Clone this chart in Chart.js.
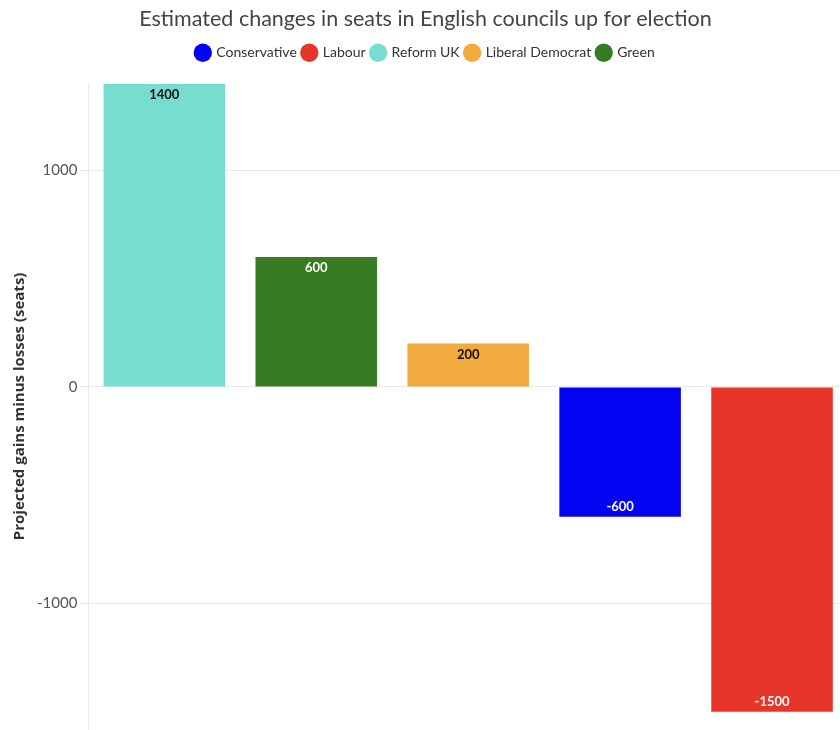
<!DOCTYPE html>
<html>
<head>
<meta charset="utf-8">
<script src="https://cdn.jsdelivr.net/npm/chart.js@4/dist/chart.umd.min.js"></script>
<style>
  html, body { margin: 0; padding: 0; background: #fff; overflow: hidden; }
  #wrap { width: 852px; height: 741px; }
</style>
</head>
<body>
<div id="wrap"><canvas id="seatsChart"></canvas></div>
<script>
// legend order
var parties = ["Conservative", "Labour", "Reform UK", "Liberal Democrat", "Green"];
var partyColors = ["#0303f2", "#e8352a", "#77ddd1", "#f0aa3e", "#377b22"];
var labelColors = ["#ffffff", "#ffffff", "#111111", "#111111", "#ffffff"];

// bar order along the x axis
var barOrder = ["Reform UK", "Green", "Liberal Democrat", "Conservative", "Labour"];
var seatChange = [1400, 600, 200, -600, -1500];

var yTicks = [-1000, 0, 1000];

var datasets = parties.map(function(p, i) {
    return {
        label: p,
        data: barOrder.map(function(b, j) { return b === p ? seatChange[j] : null; }),
        backgroundColor: partyColors[i],
        labelColor: labelColors[i],
        barPercentage: 0.8,
        categoryPercentage: 1.0
    };
});

// draws the value inside the end of each bar
var barValues = {
    id: "barValues",
    afterDatasetsDraw: function(chart) {
        var c = chart.ctx;
        c.save();
        c.font = "bold 13px Lato";
        c.textAlign = "center";
        c.textBaseline = "middle";
        chart.data.datasets.forEach(function(ds, i) {
            chart.getDatasetMeta(i).data.forEach(function(bar, j) {
                var v = ds.data[j];
                if (v === null) return;
                c.fillStyle = ds.labelColor;
                var y = v >= 0 ? bar.y + 11 : bar.y - 10;
                c.fillText(String(v), bar.x, y);
            });
        });
        c.restore();
    }
};

// a bit more room under the legend
var legendGap = {
    id: "legendGap",
    beforeInit: function(chart) {
        var fit = chart.legend.fit;
        chart.legend.fit = function() {
            fit.bind(chart.legend)();
            this.height += 14;
        };
    }
};

new Chart(document.getElementById("seatsChart"), {
    type: "bar",
    data: { labels: barOrder, datasets: datasets },
    plugins: [barValues, legendGap],
    options: {
        responsive: true,
        maintainAspectRatio: false,
        animation: false,
        layout: { padding: { top: 4, right: 4, bottom: 0, left: 3 } },
        datasets: { bar: { grouped: false, skipNull: true } },
        plugins: {
            title: {
                display: true,
                text: "Estimated changes in seats in English councils up for election",
                color: "#444",
                font: { family: "Lato", size: 21.5, weight: "normal" },
                padding: { top: 2, bottom: 8 }
            },
            legend: {
                labels: {
                    usePointStyle: true,
                    pointStyle: "circle",
                    boxWidth: 13,
                    boxHeight: 13,
                    padding: 6,
                    color: "#333",
                    font: { family: "Lato", size: 14 }
                }
            },
            tooltip: { enabled: false }
        },
        scales: {
            x: {
                display: false
            },
            y: {
                min: -1580,
                max: 1400,
                afterBuildTicks: function(axis) {
                    axis.ticks = yTicks.map(function(v) { return { value: v }; });
                },
                ticks: {
                    color: "#555",
                    font: { family: "Lato", size: 15 },
                    padding: 3,
                    callback: function(v) { return String(v); }
                },
                grid: { color: "#e9e9e9", tickLength: 8 },
                border: { color: "#e9e9e9" },
                title: {
                    display: true,
                    text: "Projected gains minus losses (seats)",
                    color: "#333",
                    font: { family: "Open Sans", size: 15, weight: "bold" },
                    padding: { top: 8, bottom: 5 }
                }
            }
        }
    }
});
</script>
</body>
</html>
